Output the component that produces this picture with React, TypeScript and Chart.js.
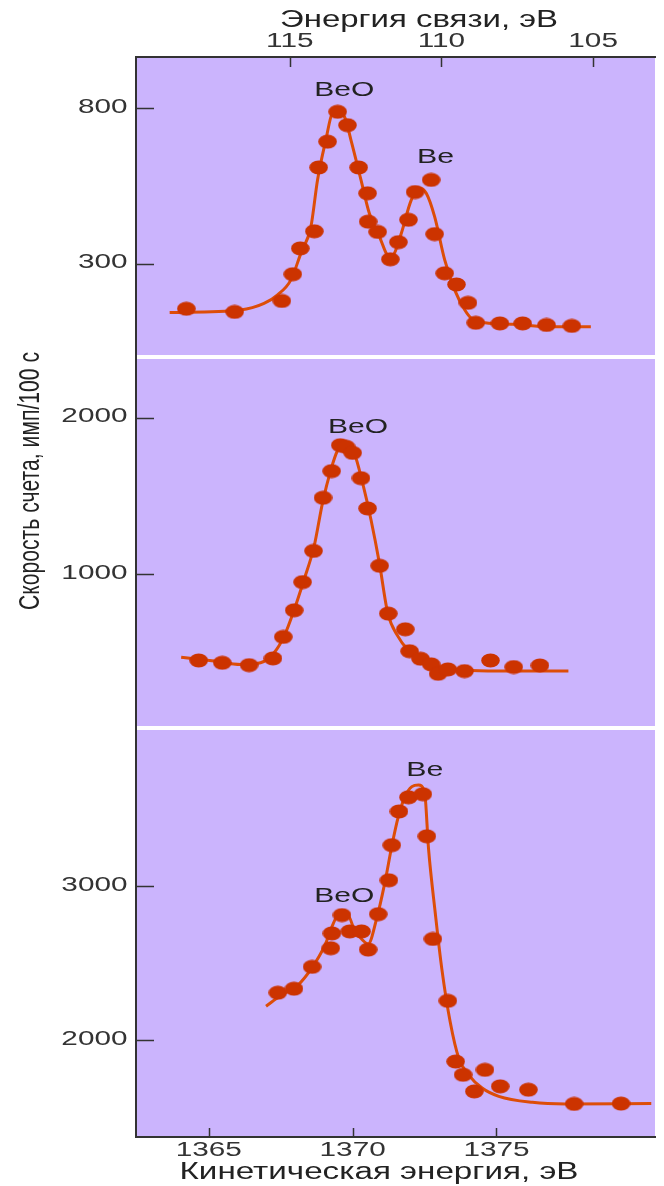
import { useEffect, useRef } from "react";
import { Chart, registerables } from "chart.js";

Chart.register(...registerables);

// ---------- axes ----------
const keTicks = [1365, 1370, 1375];
const bindingTicks = [115, 110, 105];
const keMin = 1362.47;
const keMax = 1380.51;
const bindingMin = 102.96;
const bindingMax = 120.07;

const topTicks = [300, 800];
const midTicks = [1000, 2000];
const lowTicks = [2000, 3000];
const topRange = [0, 964];
const midRange = [20, 2387];
const lowRange = [1370, 4026];

// ---------- panel 1 (top) ----------
const topPointsKE = [1364.22, 1365.9, 1367.54, 1367.92, 1368.18, 1368.67, 1368.82, 1369.13, 1369.48, 1369.82, 1370.21, 1370.52, 1370.54, 1370.87, 1371.31, 1371.59, 1371.94, 1372.17, 1372.73, 1372.85, 1373.2, 1373.61, 1374.01, 1374.28, 1375.12, 1375.91, 1376.74, 1377.62];
const topPointsCounts = [155, 145, 180, 266, 349, 404, 609, 692, 788, 745, 609, 526, 435, 402, 314, 369, 441, 530, 569, 395, 269, 233, 174, 110, 108, 108, 103, 100];
const topCurveKE = [1363.64, 1366.1, 1366.92, 1367.38, 1367.85, 1368.2, 1368.55, 1368.78, 1369.07, 1369.3, 1369.4, 1369.71, 1369.94, 1370.29, 1370.58, 1370.93, 1371.28, 1371.45, 1371.69, 1372.04, 1372.33, 1372.56, 1372.85, 1373.2, 1373.55, 1373.9, 1374.13, 1374.6, 1375.64, 1376.8, 1378.28];
const topCurveCounts = [143, 151, 172, 199, 247, 333, 419, 569, 698, 784, 787, 773, 698, 569, 462, 387, 322, 333, 397, 505, 543, 526, 451, 312, 215, 151, 124, 110, 105, 97, 97];

// ---------- panel 2 (middle) ----------
const midPointsKE = [1364.65, 1365.47, 1366.4, 1367.23, 1367.59, 1367.97, 1368.26, 1368.64, 1368.97, 1369.27, 1369.57, 1369.77, 1370.0, 1370.29, 1370.52, 1370.94, 1371.24, 1371.83, 1371.98, 1372.36, 1372.73, 1372.97, 1373.31, 1373.89, 1374.79, 1375.6, 1376.51];
const midPointsCounts = [451, 436, 421, 464, 601, 771, 951, 1150, 1489, 1659, 1824, 1814, 1775, 1614, 1421, 1055, 750, 650, 510, 462, 426, 366, 394, 383, 451, 409, 419];
const midCurveKE = [1364.04, 1365.18, 1366.11, 1366.8, 1367.27, 1367.62, 1367.97, 1368.31, 1368.66, 1368.95, 1369.24, 1369.48, 1369.71, 1370.06, 1370.35, 1370.64, 1370.93, 1371.22, 1371.57, 1371.91, 1372.38, 1372.96, 1373.89, 1375.06, 1377.5];
const midCurveCounts = [472, 447, 425, 436, 500, 606, 775, 966, 1178, 1453, 1665, 1792, 1830, 1771, 1580, 1347, 1072, 754, 606, 521, 457, 415, 390, 383, 383];

// ---------- panel 3 (bottom) ----------
const lowPointsKE = [1367.4, 1367.96, 1368.59, 1369.24, 1369.28, 1369.63, 1369.9, 1370.31, 1370.54, 1370.89, 1371.26, 1371.36, 1371.61, 1371.94, 1372.44, 1372.58, 1372.79, 1373.31, 1373.58, 1373.84, 1374.23, 1374.6, 1375.13, 1376.11, 1377.7, 1379.33];
const lowPointsCounts = [2307, 2333, 2475, 2596, 2692, 2811, 2705, 2705, 2587, 2817, 3037, 3265, 3484, 3576, 3596, 3323, 2656, 2254, 1860, 1774, 1666, 1806, 1699, 1677, 1585, 1587];
const lowCurveKE = [1366.99, 1367.51, 1368.09, 1368.56, 1369.03, 1369.32, 1369.49, 1369.84, 1370.07, 1370.31, 1370.54, 1370.83, 1371.12, 1371.36, 1371.59, 1371.82, 1372.06, 1372.29, 1372.5, 1372.64, 1372.87, 1373.1, 1373.39, 1373.69, 1374.03, 1374.5, 1375.08, 1376.25, 1377.41, 1380.38];
const lowCurveCounts = [2219, 2290, 2355, 2462, 2613, 2753, 2806, 2806, 2710, 2656, 2624, 2785, 3022, 3258, 3452, 3581, 3645, 3656, 3613, 3237, 2828, 2462, 2118, 1881, 1774, 1688, 1634, 1595, 1585, 1587];

// ---------- peak labels ----------
const peakLabelText = ["BeO", "Be", "BeO", "Be", "BeO"];
const peakLabelAxis = ["y1", "y1", "y2", "y3", "y3"];
const peakLabelKE = [1369.71, 1372.88, 1370.19, 1372.51, 1369.71];
const peakLabelCounts = [858, 643, 1941, 3753, 2935];

// ---------- texts ----------
const bottomTitle = "Кинетическая энергия, эВ";
const topTitle = "Энергия связи, эВ";
const leftTitle = "Скорость счета, имп/100 с";

// ---------- styles ----------
const BG = "#cbb4fd";
const AXIS = "#333333";
const POINT = "#cc3300";
const LINE = "#dd4d08";
const TEXT = "#222222";
const TICK_SIZE = 20.5;
const TICK_STRETCH = 1.45;

function zip(xs: number[], ys: number[]) {
  return xs.map((x, i) => ({ x, y: ys[i] }));
}

function makeDot() {
  const c = document.createElement("canvas");
  c.width = 19;
  c.height = 15;
  const g = c.getContext("2d")!;
  g.fillStyle = POINT;
  g.beginPath();
  g.ellipse(9.5, 7.5, 9.3, 7, 0, 0, Math.PI * 2);
  g.fill();
  return c;
}

function drawStretched(ctx: any, text: string, cx: number, cy: number, size: number, width: number, rotate = false) {
  ctx.save();
  ctx.font = `${size}px "Liberation Sans", Arial, sans-serif`;
  const w = ctx.measureText(text).width;
  ctx.translate(cx, cy);
  if (rotate) ctx.rotate(-Math.PI / 2);
  ctx.scale(width / w, 1);
  ctx.textAlign = "center";
  ctx.textBaseline = "middle";
  ctx.fillStyle = TEXT;
  ctx.fillText(text, 0, 0);
  ctx.restore();
}

function drawTickLabel(ctx: any, text: string, x: number, y: number, align: "right" | "center") {
  ctx.save();
  ctx.font = `${TICK_SIZE}px "Liberation Sans", Arial, sans-serif`;
  ctx.translate(x, y);
  ctx.scale(TICK_STRETCH, 1);
  ctx.textAlign = align;
  ctx.textBaseline = "middle";
  ctx.fillStyle = AXIS;
  ctx.fillText(text, 0, 0);
  ctx.restore();
}

const decorPlugin = {
  id: "decor",
  beforeDraw(chart: any) {
    const { ctx, chartArea: a } = chart;
    ctx.save();
    ctx.fillStyle = BG;
    ctx.fillRect(a.left, a.top, a.right - a.left, a.bottom - a.top);
    ctx.strokeStyle = "#ffffff";
    ctx.lineWidth = 4;
    for (const id of ["y1", "y2"]) {
      const s = chart.scales[id];
      ctx.beginPath();
      ctx.moveTo(a.left + 1, s.bottom);
      ctx.lineTo(a.right, s.bottom);
      ctx.stroke();
    }
    ctx.restore();
  },
  afterDraw(chart: any) {
    const { ctx, chartArea: a } = chart;
    ctx.save();
    ctx.strokeStyle = AXIS;
    ctx.lineWidth = 1.5;
    // inward tick marks + tick labels
    for (const id of ["y1", "y2", "y3"]) {
      const s = chart.scales[id];
      for (const t of s.ticks) {
        const py = s.getPixelForValue(t.value);
        const y = Math.round(py) + 0.5;
        ctx.beginPath();
        ctx.moveTo(a.left, y);
        ctx.lineTo(a.left + 18, y);
        ctx.stroke();
        drawTickLabel(ctx, String(t.value), a.left - 8.5, py - 1, "right");
      }
    }
    const xb = chart.scales.x;
    for (const t of xb.ticks) {
      const px = xb.getPixelForValue(t.value);
      const x = Math.round(px) + 0.5;
      ctx.beginPath();
      ctx.moveTo(x, a.bottom);
      ctx.lineTo(x, a.bottom - 9);
      ctx.stroke();
      drawTickLabel(ctx, String(t.value), px, a.bottom + 13, "center");
    }
    const xt = chart.scales.x2;
    for (const t of xt.ticks) {
      const px = xt.getPixelForValue(t.value);
      const x = Math.round(px) + 0.5;
      ctx.beginPath();
      ctx.moveTo(x, a.top);
      ctx.lineTo(x, a.top + 10);
      ctx.stroke();
      drawTickLabel(ctx, String(t.value), px, a.top - 16, "center");
    }
    ctx.restore();

    // axis titles
    drawStretched(ctx, topTitle, 419, 21, 23, 278);
    drawStretched(ctx, bottomTitle, 379, 1173, 23, 399);
    drawStretched(ctx, leftTitle, 31, 481, 30, 258, true);

    // peak labels
    peakLabelText.forEach((txt, i) => {
      const x = xb.getPixelForValue(peakLabelKE[i]);
      const y = chart.scales[peakLabelAxis[i]].getPixelForValue(peakLabelCounts[i]);
      drawStretched(ctx, txt, x, y, 21, txt.length === 3 ? 60 : 37);
    });
  },
};

function yScale(range: number[], ticks: number[], weight: number, stackWeight: number) {
  return {
    type: "linear",
    position: "left",
    stack: "panels",
    stackWeight,
    weight,
    min: range[0],
    max: range[1],
    afterBuildTicks: (s: any) => {
      s.ticks = ticks.map((v) => ({ value: v }));
    },
    afterFit: (s: any) => {
      s.width = 136;
    },
    grid: { display: false, drawTicks: false },
    border: { display: true, color: AXIS, width: 2 },
    ticks: { display: false },
  };
}

export default function App() {
  const ref = useRef<HTMLCanvasElement | null>(null);

  useEffect(() => {
    if (!ref.current) return;
    const dot = makeDot();
    const curve = (xs: number[], ys: number[], yid: string) => ({
      data: zip(xs, ys),
      xAxisID: "x",
      yAxisID: yid,
      showLine: true,
      borderColor: LINE,
      borderWidth: 3,
      pointRadius: 0,
      cubicInterpolationMode: "monotone",
      fill: false,
      order: 2,
    });
    const points = (xs: number[], ys: number[], yid: string) => ({
      data: zip(xs, ys),
      xAxisID: "x",
      yAxisID: yid,
      showLine: false,
      pointStyle: dot,
      pointRadius: 8,
      backgroundColor: POINT,
      borderColor: POINT,
      order: 1,
    });

    const chart = new Chart(ref.current, {
      type: "scatter",
      data: {
        datasets: [
          curve(topCurveKE, topCurveCounts, "y1"),
          points(topPointsKE, topPointsCounts, "y1"),
          curve(midCurveKE, midCurveCounts, "y2"),
          points(midPointsKE, midPointsCounts, "y2"),
          curve(lowCurveKE, lowCurveCounts, "y3"),
          points(lowPointsKE, lowPointsCounts, "y3"),
        ] as any,
      },
      options: {
        responsive: false,
        animation: false,
        devicePixelRatio: 1,
        layout: { padding: 0 },
        plugins: { legend: { display: false }, tooltip: { enabled: false } },
        scales: {
          x: {
            type: "linear",
            position: "bottom",
            min: keMin,
            max: keMax,
            afterBuildTicks: (s: any) => {
              s.ticks = keTicks.map((v) => ({ value: v }));
            },
            afterFit: (s: any) => {
              s.height = 49;
            },
            grid: { display: false, drawTicks: false },
            border: { display: true, color: AXIS, width: 2 },
            ticks: { display: false },
          },
          x2: {
            type: "linear",
            position: "top",
            reverse: true,
            min: bindingMin,
            max: bindingMax,
            afterBuildTicks: (s: any) => {
              s.ticks = bindingTicks.map((v) => ({ value: v }));
            },
            afterFit: (s: any) => {
              s.height = 57;
            },
            grid: { display: false, drawTicks: false },
            border: { display: true, color: AXIS, width: 2 },
            ticks: { display: false },
          },
          y1: yScale(topRange, topTicks, 3, 300),
          y2: yScale(midRange, midTicks, 2, 371),
          y3: yScale(lowRange, lowTicks, 1, 409),
        } as any,
      },
      plugins: [decorPlugin as any],
    });
    return () => chart.destroy();
  }, []);

  return (
    <div style={{ position: "absolute", left: 0, top: 0, width: 664, height: 1186 }}>
      <canvas ref={ref} width={664} height={1186} style={{ display: "block", width: 664, height: 1186 }} />
    </div>
  );
}
